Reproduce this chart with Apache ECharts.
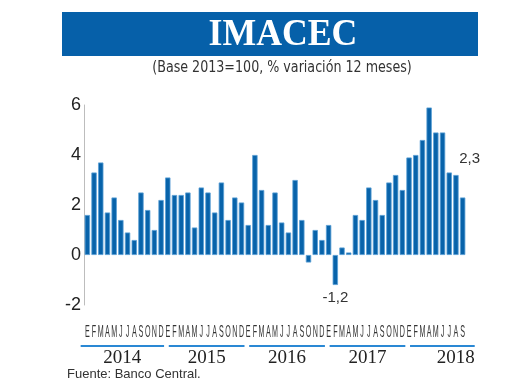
<!DOCTYPE html>
<html><head><meta charset="utf-8">
<script src="https://cdn.jsdelivr.net/npm/echarts@6/dist/echarts.min.js"></script>
<style>html,body{margin:0;padding:0;background:#fff;}#c{width:520px;height:390px;}</style>
</head><body><div id="c"></div>
<script>
const years = ['2014','2015','2016','2017','2018'];
const monthLetters = ['E','F','M','A','M','J','J','A','S','O','N','D'];
const v2014 = [1.6, 3.3, 3.7, 1.7, 2.3, 1.4, 0.9, 0.6, 2.5, 1.8, 1.0, 2.2];
const v2015 = [3.1, 2.4, 2.4, 2.5, 1.1, 2.7, 2.5, 1.7, 2.9, 1.4, 2.3, 2.1];
const v2016 = [1.2, 4.0, 2.6, 1.2, 2.5, 1.3, 0.9, 3.0, 1.4, -0.3, 1.0, 0.6];
const v2017 = [1.2, -1.2, 0.3, 0.1, 1.6, 1.4, 2.7, 2.2, 1.6, 2.9, 3.2, 2.6];
const v2018 = [3.9, 4.0, 4.6, 5.9, 4.9, 4.9, 3.3, 3.2, 2.3];
const yTicks = [-2, 0, 2, 4, 6];
const labelled = {'2017-1': '-1,2', '2018-8': '2,3'};

const yearValues = [v2014, v2015, v2016, v2017, v2018];
const cats = [], vals = [], yearOfCat = [];
yearValues.forEach((arr, yi) => {
  arr.forEach((v, mi) => {
    cats.push(years[yi] + '-' + mi);
    vals.push(v);
    yearOfCat.push(yi);
  });
});
const data = vals.map((v, i) => {
  const lab = labelled[cats[i]];
  const item = {value: v};
  if (lab) {
    item.label = {show: true, formatter: lab,
      position: v < 0 ? 'bottom' : 'top',
      offset: v < 0 ? [0, 0] : [7, -26],
      color: '#333', fontSize: 15, fontFamily: 'Liberation Sans Narrow, Liberation Sans, sans-serif'};
  }
  return item;
});

const chart = echarts.init(document.getElementById('c'));
const option = {
  backgroundColor: '#fff',
  animation: false,
  grid: {left: 84, right: 54, top: 105, height: 200},
  graphic: [
    {type: 'rect', shape: {x: 62, y: 12, width: 416, height: 44}, style: {fill: '#0660a9'}},
    {type: 'text', x: 283, y: 35, scaleX: 0.94, style: {text: 'IMACEC', fill: '#fff', font: 'bold 38px "Liberation Serif", serif', textAlign: 'center', textVerticalAlign: 'middle'}},
    {type: 'text', x: 282, y: 68, scaleX: 0.94, style: {text: '(Base 2013=100, % variación 12 meses)', fill: '#333', font: '15px "Liberation Sans Narrow", "DejaVu Sans Condensed", sans-serif', textAlign: 'center', textVerticalAlign: 'middle'}},
    {type: 'text', x: 67, y: 374, style: {text: 'Fuente: Banco Central.', fill: '#333', font: '13px "Liberation Sans", sans-serif', textAlign: 'left', textVerticalAlign: 'middle'}}
  ],
  xAxis: {
    type: 'category', data: cats,
    axisLine: {show: false, onZero: false},
    axisTick: {show: false},
    axisLabel: {show: false}
  },
  yAxis: {
    type: 'value', min: yTicks[0], max: yTicks[yTicks.length - 1], interval: 2,
    splitLine: {show: false},
    axisTick: {show: false},
    axisLine: {show: true, lineStyle: {color: '#bdbdbd', width: 1}},
    axisLabel: {margin: 3, color: '#222', fontSize: 18, padding: [0, 0, 10, 0],
      fontFamily: 'Liberation Sans Narrow, Liberation Sans, sans-serif',
      formatter: (v) => String(v)}
  },
  series: [{
    type: 'bar', data: data, barCategoryGap: '20%',
    itemStyle: {color: '#0863aa', borderColor: '#5b9fd6', borderWidth: 0.8}
  }]
};
chart.setOption(option);

// Month letters, year underlines and labels, positioned from the category scale
const g = [];
const px = (c) => chart.convertToPixel({xAxisIndex: 0}, c);
const band = px(cats[1]) - px(cats[0]);
cats.forEach((c) => {
  g.push({type: 'text', x: px(c), y: 332, scaleX: 0.42,
    style: {text: monthLetters[+c.split('-')[1]], fill: '#333', font: '17px "Liberation Sans", sans-serif', textAlign: 'center', textVerticalAlign: 'middle'}});
});
years.forEach((y, yi) => {
  const idx = yearOfCat.map((v, i) => v === yi ? i : -1).filter(i => i >= 0);
  const first = px(cats[idx[0]]);
  const last = px(cats[idx[idx.length - 1]]);
  const x1 = yi === 0 ? first - band : first + 1;
  const x2 = yi === years.length - 1 ? last + band * 1.8 : last + 3;
  g.push({type: 'line', shape: {x1: x1, y1: 346, x2: x2, y2: 346}, style: {stroke: '#2a88d4', lineWidth: 2}});
  const isLast = yi === years.length - 1;
  g.push({type: 'text', x: isLast ? x2 : (x1 + x2) / 2, y: 358,
    style: {text: y, fill: '#222', font: '19px "Liberation Serif", serif', textAlign: isLast ? 'right' : 'center', textVerticalAlign: 'middle'}});
});
chart.setOption({graphic: option.graphic.concat(g)});
</script></body></html>
